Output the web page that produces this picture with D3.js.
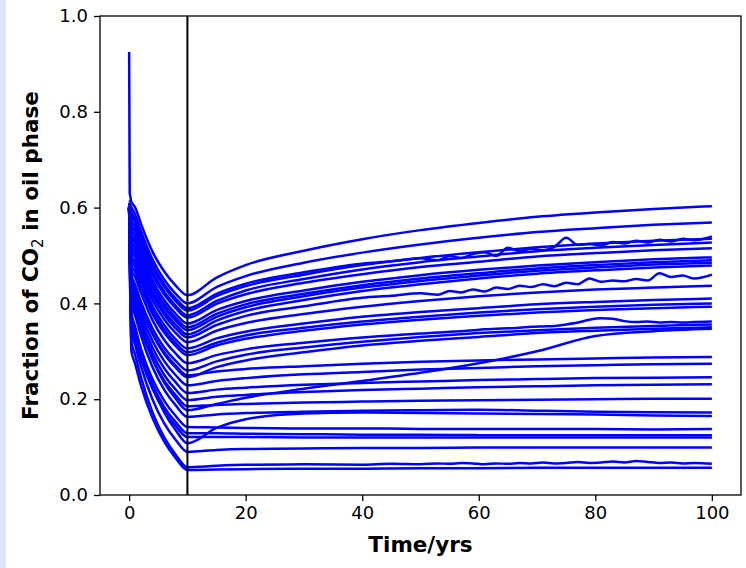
<!DOCTYPE html>
<html>
<head>
<meta charset="utf-8">
<script src="https://cdn.jsdelivr.net/npm/d3@7"></script>
<style>
  body { margin: 0; background: #fff; }
  #chart { position: relative; width: 746px; height: 568px; }
  .strip { position: absolute; left: 0; top: 0; width: 6px; height: 568px; background: #dce8fa; }
</style>
</head>
<body>
<div id="chart"><div class="strip"></div></div>
<script>
// sample times (yrs) shared by the smooth runs
const years = [0, 0.4, 1, 2, 4, 6, 8, 10, 15, 20, 30, 40, 50, 60, 70, 80, 90, 100]

// fraction of CO2 in oil phase, one row per simulation run
const runs = [
  [.615, .61, .601, .567, .508, .467, .437, .417, .454, .480, .510, .534, .553, .568, .581, .590, .597, .603],
  [.61, .60, .586, .552, .492, .45, .42, .40, .434, .457, .485, .506, .523, .537, .549, .557, .564, .569],
  [.608, .585, .571, .537, .477, .435, .405, .385, .415, .436, .46, .48, .495, .507, .517, .525, .531, .535],
  [.606, .575, .561, .527, .467, .425, .395, .375, .405, .427, .451, .471, .486, .498, .509, .516, .522, .527],
  [.605, .565, .551, .518, .46, .419, .39, .37, .399, .419, .443, .461, .476, .487, .498, .505, .511, .515],
  [.604, .555, .541, .508, .449, .407, .378, .358, .386, .405, .427, .445, .459, .47, .479, .486, .492, .496],
  [.603, .545, .531, .498, .44, .399, .37, .35, .378, .398, .42, .438, .452, .463, .473, .48, .486, .49],
  [.603, .54, .526, .493, .434, .393, .364, .344, .372, .392, .415, .433, .447, .458, .468, .475, .481, .485],
  [.602, .53, .516, .483, .425, .384, .355, .335, .364, .384, .407, .426, .44, .452, .462, .469, .475, .479],
  [.601, .51, .497, .464, .407, .367, .338, .319, .343, .359, .378, .393, .405, .415, .423, .429, .433, .437],
  [.6, .5, .486, .453, .395, .355, .325, .306, .327, .341, .358, .372, .382, .39, .398, .403, .407, .41],
  [.6, .49, .477, .444, .386, .346, .317, .298, .318, .333, .349, .362, .372, .381, .388, .393, .397, .4],
  [.6, .48, .467, .435, .378, .339, .311, .292, .312, .326, .343, .356, .366, .374, .381, .386, .39, .393],
  [.6, .46, .44, .404, .348, .308, .28, .26, .279, .293, .308, .32, .33, .338, .344, .349, .353, .356],
  [.6, .45, .43, .393, .336, .295, .266, .246, .267, .281, .298, .312, .322, .33, .338, .343, .347, .35],
  [.6, .42, .396, .352, .284, .235, .201, .177, .19, .203, .222, .238, .255, .275, .3, .332, .342, .347],
  [.6, .45, .43, .394, .338, .298, .27, .25, .258, .263, .269, .274, .278, .281, .283, .285, .287, .288],
  [.6, .44, .419, .381, .322, .28, .25, .229, .238, .244, .252, .257, .262, .265, .269, .271, .273, .274],
  [.6, .43, .408, .369, .308, .265, .235, .213, .22, .224, .23, .234, .237, .24, .242, .244, .245, .246],
  [.6, .42, .398, .358, .296, .251, .22, .198, .205, .209, .215, .219, .222, .225, .227, .229, .23, .231],
  [.6, .41, .388, .347, .284, .239, .208, .185, .188, .19, .193, .195, .197, .198, .199, .2, .201, .201],
  [.6, .4, .376, .334, .267, .22, .187, .163, .168, .171, .174, .176, .177, .178, .176, .174, .173, .172],
  [.6, .38, .353, .304, .228, .173, .135, .108, .14, .158, .17, .172, .171, .17, .169, .168, .166, .165],
  [.6, .37, .347, .306, .242, .197, .165, .142, .141, .14, .139, .139, .138, .138, .138, .138, .137, .138],
  [.6, .36, .337, .295, .231, .184, .152, .129, .129, .128, .127, .126, .126, .125, .125, .125, .125, .125],
  [.6, .35, .327, .286, .222, .176, .144, .121, .121, .121, .12, .12, .12, .12, .12, .12, .12, .12],
  [.6, .34, .315, .27, .2, .15, .115, .09, .094, .096, .097, .098, .098, .099, .099, .099, .099, .099],
  [.6, .3, .275, .23, .161, .112, .077, .052, .053, .054, .055, .055, .056, .056, .057, .057, .057, .057]
]

// runs that get noisy late on, sampled more densely
const noisyYears = [0, 0.4, 1, 2, 4, 6, 8, 10, 15, 20, 30, 40, 45, 50, 53, 55, 57, 59, 61, 63, 65, 67, 69,
  71, 73, 75, 77, 79, 81, 83, 85, 87, 89, 91, 93, 95, 97, 100]

const noisyRuns = [
  [.61, .59, .576, .542, .482, .44, .41, .39, .42, .441, .465, .483,
    .488, .494, .49, .499, .495, .503, .507, .499, .516, .509, .514, .511, .518, .537, .522, .524, .521,
    .528, .525, .531, .527, .533, .529, .535, .532, .54],
  [.601, .52, .507, .474, .417, .377, .348, .329, .355, .374, .394, .412,
    .416, .421, .418, .426, .423, .429, .425, .433, .43, .437, .434, .44, .436, .443, .44, .452, .445,
    .448, .446, .451, .448, .463, .455, .458, .452, .46],
  [.6, .47, .456, .423, .365, .324, .295, .275, .292, .304, .318, .329,
    .333, .337, .339, .341, .342, .344, .346, .347, .348, .349, .351, .352, .353, .356, .36, .366, .369,
    .368, .363, .361, .362, .36, .361, .36, .361, .362],
  [.6, .32, .294, .247, .173, .121, .084, .058, .061, .063, .064, .063,
    .065, .064, .066, .065, .067, .066, .064, .066, .065, .067, .066, .068, .066, .067, .069, .067, .068,
    .07, .068, .071, .069, .067, .068, .066, .067, .065]
]

// the one run that starts very high
const spikeYears = [0, 0.1, 0.4]
const spikeValues = [0.925, 0.63, 0.61]

const injectionStop = 10
const xTicks = [0, 20, 40, 60, 80, 100]
const yTicks = [0, 0.2, 0.4, 0.6, 0.8, 1.0]

const W = 746, H = 568
const margin = { top: 16, right: 5, bottom: 73, left: 100 }
const width = W - margin.left - margin.right
const height = H - margin.top - margin.bottom

const x = d3.scaleLinear().domain([-5, 105]).range([0, width])
const y = d3.scaleLinear().domain([0, 1]).range([height, 0])

const svg = d3.select('#chart').append('svg')
    .attr('width', W)
    .attr('height', H)
    .style('position', 'absolute')
    .style('left', 0)
    .style('top', 0)

const g = svg.append('g').attr('transform', `translate(${margin.left},${margin.top})`)

g.append('clipPath').attr('id', 'clip')
    .append('rect').attr('width', width).attr('height', height)

const line = d3.line()
    .x(d => x(d[0]))
    .y(d => y(d[1]))
    .curve(d3.curveMonotoneX)

const series = runs.map(r => years.map((t, i) => [t, r[i]]))
    .concat(noisyRuns.map(r => noisyYears.map((t, i) => [t, r[i]])))

const plot = g.append('g').attr('clip-path', 'url(#clip)')

plot.selectAll('.run')
    .data(series)
    .enter().append('path')
    .attr('class', 'run')
    .attr('d', line)
    .attr('fill', 'none')
    .attr('stroke', '#0000ff')
    .attr('stroke-width', 2.5)
    .attr('stroke-linejoin', 'round')

plot.append('path')
    .datum(spikeYears.map((t, i) => [t, spikeValues[i]]))
    .attr('d', d3.line().x(d => x(d[0])).y(d => y(d[1])))
    .attr('fill', 'none')
    .attr('stroke', '#0000ff')
    .attr('stroke-width', 2.5)

// end of injection marker
plot.append('line')
    .attr('x1', x(injectionStop)).attr('x2', x(injectionStop))
    .attr('y1', 0).attr('y2', height)
    .attr('stroke', '#000')
    .attr('stroke-width', 2)

const xAxis = g.append('g')
    .attr('transform', `translate(0,${height})`)
    .call(d3.axisBottom(x).tickValues(xTicks).tickSize(6).tickPadding(5).tickFormat(d3.format('d')))

const yAxis = g.append('g')
    .call(d3.axisLeft(y).tickValues(yTicks).tickSize(6).tickPadding(6).tickFormat(d3.format('.1f')))

;[xAxis, yAxis].forEach(a => {
    a.select('.domain').remove()
    a.selectAll('line').attr('stroke', '#000').attr('stroke-width', 1.3)
    a.selectAll('text')
        .attr('fill', '#000')
        .style('font-family', 'DejaVu Sans, sans-serif')
        .style('font-size', '18px')
})

// frame
g.append('rect')
    .attr('width', width).attr('height', height)
    .attr('fill', 'none')
    .attr('stroke', '#000')
    .attr('stroke-width', 1.3)

svg.append('text')
    .attr('x', margin.left + width / 2)
    .attr('y', 552)
    .attr('text-anchor', 'middle')
    .style('font-family', 'DejaVu Sans, sans-serif')
    .style('font-weight', 'bold')
    .style('font-size', '21.5px')
    .text('Time/yrs')

const yl = svg.append('text')
    .attr('transform', `translate(38,${margin.top + height / 2}) rotate(-90)`)
    .attr('text-anchor', 'middle')
    .style('font-family', 'DejaVu Sans, sans-serif')
    .style('font-weight', 'bold')
    .style('font-size', '21.5px')
yl.append('tspan').text('Fraction of CO')
yl.append('tspan').text('2').style('font-size', '15px').style('font-weight', 'normal').attr('dy', 5)
yl.append('tspan').text(' in oil phase').attr('dy', -5)
</script>
</body>
</html>
